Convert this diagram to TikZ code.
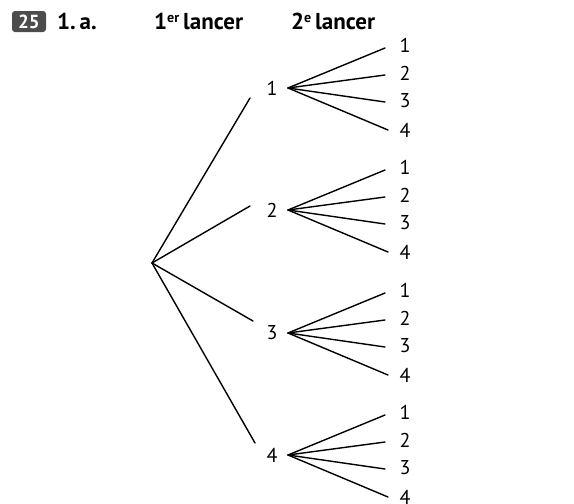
\documentclass[tikz,border=0pt]{standalone}
\usepackage{fontspec}
\setmainfont{PT Sans}
\newcommand{\mysup}[1]{\raisebox{0.3em}{\fontsize{14}{14}\selectfont\bfseries #1}}
\begin{document}
\begin{tikzpicture}[x=1pt,y=-1pt,
  lab/.style={inner sep=0pt,font=\fontsize{20}{20}\selectfont},
  head/.style={inner sep=0pt,anchor=base west,font=\fontsize{23}{23}\selectfont\bfseries},
  br/.style={line width=1.4pt,line cap=round}]
\useasboundingbox (0,0) rectangle (574,504);
% header
\node[fill=black!70,rounded corners=3pt,minimum width=34pt,minimum height=21pt,inner sep=0pt,text=white,font=\fontsize{19}{19}\selectfont\bfseries] (badge) at (29,21.5) {25};
\node[head] (q) at (57,29) {1.\,a.};
\node[head] (h1) at (154,29) {1\mysup{er}\,lancer};
\node[head] (h2) at (291,29) {2\mysup{e}\,lancer};
% root
\coordinate (r) at (152,263);
% level 1
\foreach \i/\y/\ex/\ey in {1/88/250/98, 2/210/250/206, 3/333/253/321, 4/455/255/443}{
  \node[lab] (n\i) at (272,\y) {\i};
  \coordinate (e\i) at (\ex,\ey);
  \coordinate (a\i) at (288,\y);
  \draw[br] (r) -- (e\i);
  \foreach \j/\dl/\de/\xe in {1/-43/-40/385, 2/-15/-13/385, 3/13/14/385, 4/42/42/388}{
    \node[lab] (l\i\j) at (405,\y+\dl) {\j};
    \coordinate (f\i\j) at (\xe,\y+\de);
    \draw[br] (a\i) -- (f\i\j);
  }
}
\end{tikzpicture}
\end{document}
